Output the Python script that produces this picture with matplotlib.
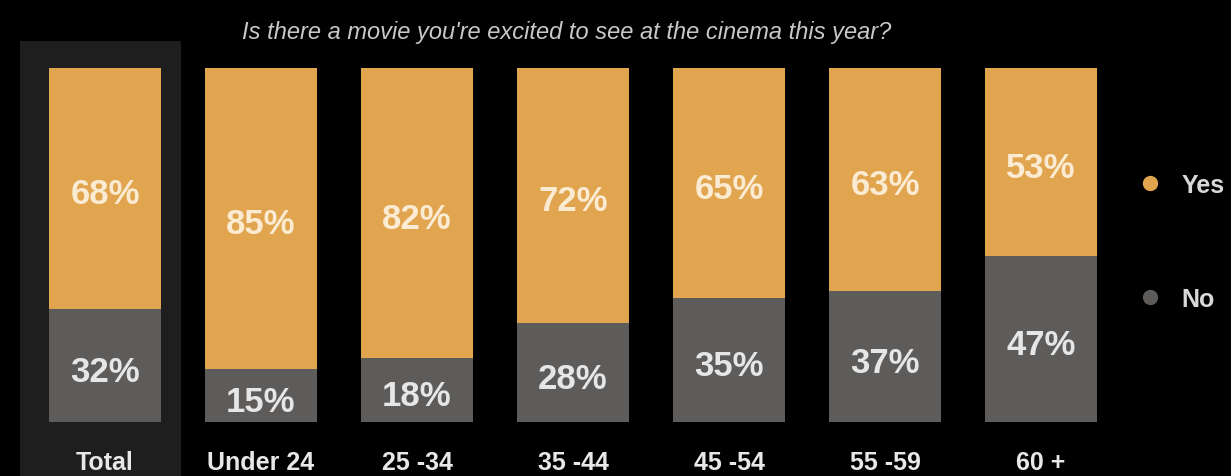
import matplotlib.pyplot as plt
from matplotlib.patches import Rectangle
from matplotlib.lines import Line2D
import numpy as np

groups = ['Total', 'Under 24', '25 -34', '35 -44', '45 -54', '55 -59', '60 +']
yes_vals = [68, 85, 82, 72, 65, 63, 53]
no_vals = [32, 15, 18, 28, 35, 37, 47]

yes_color = '#E0A54E'
no_color = '#5E5C5A'

plt.rcParams['font.family'] = ['Liberation Sans', 'DejaVu Sans']

fig = plt.figure(figsize=(12.31, 4.77), dpi=100, facecolor='black')
ax = fig.add_axes([27 / 1231, 54 / 477, 1092 / 1231, 354 / 477])
ax.set_facecolor('black')

x = np.arange(len(groups))
w = 0.72

# highlight behind Total
ax.add_patch(Rectangle((-0.545, -16), 1.03, 123.5, facecolor='#1E1E1E',
                       edgecolor='none', clip_on=False, zorder=0))

# no at bottom, yes on top
ax.bar(x, no_vals, w, color=no_color, zorder=2)
ax.bar(x, yes_vals, w, bottom=no_vals, color=yes_color, zorder=2)

for i in range(len(groups)):
    ax.text(x[i], no_vals[i] + yes_vals[i] / 2 - 1.5, f'{yes_vals[i]}%', ha='center', va='center',
            color='#FBEBD2', fontsize=25, fontweight='bold', zorder=3)
    ax.text(x[i], no_vals[i] / 2 - 1.6, f'{no_vals[i]}%', ha='center', va='center',
            color='#E6E6E6', fontsize=25, fontweight='bold', zorder=3)

ax.set_xlim(-0.5, 6.5)
ax.set_ylim(0, 100)
ax.set_xticks(x)
ax.set_xticklabels(groups, color='#E8E8E8', fontsize=18, fontweight='bold')
ax.tick_params(axis='x', length=0, pad=20)
ax.set_yticks([])
for s in ax.spines.values():
    s.set_visible(False)

fig.text(567 / 1231, 1 - 32 / 477, "Is there a movie you're excited to see at the cinema this year?",
         ha='center', va='center', color='#C8C8C8', fontsize=17, style='italic')

handles = [Line2D([], [], marker='o', linestyle='none', markersize=10, color=yes_color),
           Line2D([], [], marker='o', linestyle='none', markersize=10, color=no_color)]
leg = fig.legend(handles, ['Yes', 'No'], loc='center left', bbox_to_anchor=(1112 / 1231, 1 - 243 / 477),
                 frameon=False, labelspacing=3.6, handlelength=1.2, handletextpad=0.68, fontsize=18)
for t in leg.get_texts():
    t.set_color('#D8D8D8')
    t.set_fontweight('bold')

fig.savefig('out.png', dpi=100, facecolor='black')
